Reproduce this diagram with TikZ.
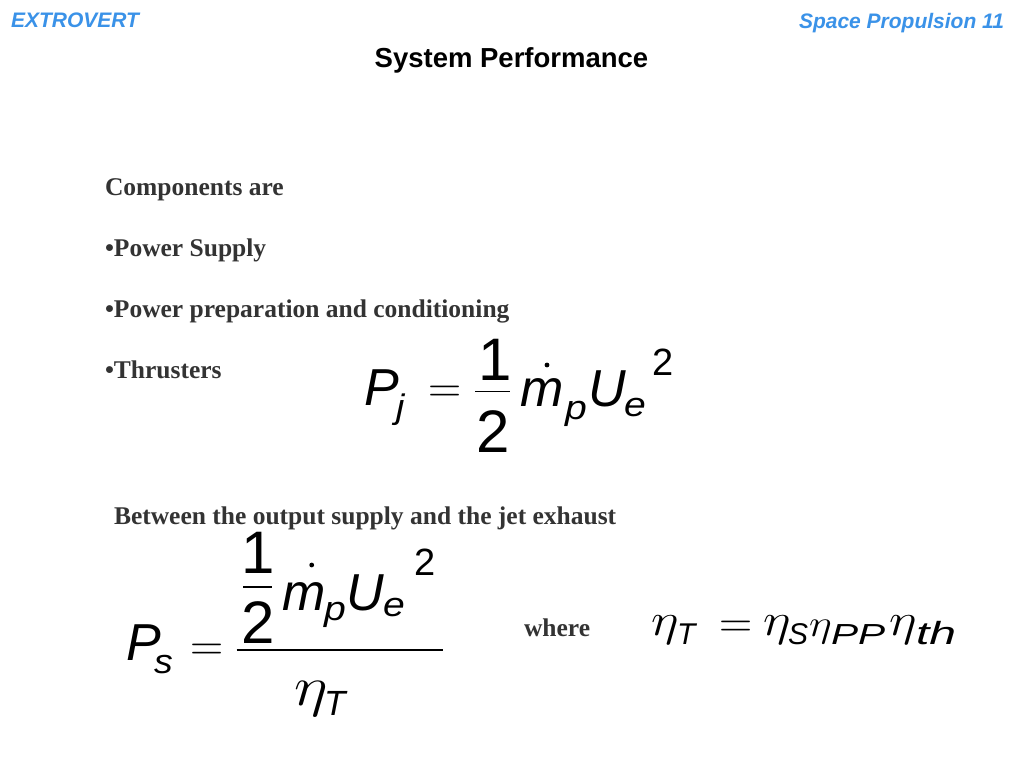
\RequirePackage{fix-cm}
\documentclass[tikz,border=0pt]{standalone}
\usepackage{fontspec}
\newfontfamily\hv{Liberation Sans}
\newfontfamily\tms{Liberation Serif}
\definecolor{hdblue}{RGB}{58,146,232}
\definecolor{bodygray}{RGB}{51,51,51}
\newcommand\setsz[1]{\fontsize{#1}{#1}\selectfont}
\newcommand\wid[2]{\scalebox{#1}[1]{#2}}
\tikzset{
 g/.style={inner sep=0pt, outer sep=0pt, anchor=base west},
 hdr/.style={g, font=\hv\bfseries\itshape\setsz{21}, text=hdblue},
 body/.style={g, font=\tms\bfseries\setsz{25.5}, text=bodygray},
 big/.style={g, font=\hv\itshape\setsz{52}},
 sub/.style={g, font=\hv\itshape\setsz{#1}},
 upr/.style={g, font=\hv\setsz{#1}},
 dig/.style={inner sep=0pt, outer sep=0pt, anchor=base, font=\hv\setsz{60}},
 eqs/.style={g, font=\rmfamily\setsz{46}},
 eta/.style={g, font=\setsz{#1}},
 fbar/.style={line width=1.8pt},
}
\begin{document}
\begin{tikzpicture}[x=1pt,y=-1pt]
\fill[white] (0,0) rectangle (1024,768);
\useasboundingbox (0,0) rectangle (1024,768);
% header
\node[hdr] (ext) at (11,28) {EXTROVERT};
\node[hdr, anchor=base east] (sp) at (1004,29) {Space Propulsion 11};
\node[inner sep=0pt, anchor=base, font=\hv\bfseries\setsz{27.5}] (title) at (511.5,67.5) {System Performance};
% body
\node[body] (comp) at (105,195) {Components are};
\node[body] (ps) at (105,256) {•Power Supply};
\node[body] (ppc) at (105,317) {•Power preparation and conditioning};
\node[body] (thr) at (105,378) {•Thrusters};
\node[body] (betw) at (114,524) {Between the output supply and the jet exhaust};
\node[body] (where) at (524,636.5) {where};
% equation 1
\node[big] (P1) at (364,405) {P};
\node[sub=34] (j1) at (396,418) {\wid{1.1}{j}};
\node[eqs] (eq1) at (428,402.5) {=};
\coordinate (b1l) at (475,391.5);
\coordinate (b1r) at (510,391.5);
\draw[fbar] (b1l) -- (b1r);
\node[dig] (n1) at (495,380) {1};
\node[dig] (d1) at (493.5,452) {2};
\node[big] (m1) at (520,406.5) {m};
\fill (547,365) circle (2.4pt);
\node[sub=34] (p1) at (565,419.5) {\wid{1.15}{p}};
\node[big] (U1) at (588,406.5) {U};
\node[sub=34] (e1) at (624,416.5) {\wid{1.15}{e}};
\node[upr=38] (s1) at (652,375) {2};
% equation 2
\node[big] (P2) at (126,660) {P};
\node[sub=34] (s2) at (154,673) {\wid{1.1}{s}};
\node[eqs] (eq2) at (190.5,660) {=};
\coordinate (B2l) at (236.7,650);
\coordinate (B2r) at (443.3,650);
\draw[fbar] (B2l) -- (B2r);
\coordinate (b2l) at (243,586.7);
\coordinate (b2r) at (271.7,586.7);
\draw[fbar] (b2l) -- (b2r);
\node[dig] (n2) at (258,573) {1};
\node[dig] (d2) at (258.5,643.3) {2};
\node[big] (m2) at (282,610) {m};
\fill (311.7,565) circle (2.4pt);
\node[sub=34] (p2) at (324,620) {\wid{1.15}{p}};
\node[big] (U2) at (346,610) {U};
\node[sub=34] (e2) at (383,616.7) {\wid{1.15}{e}};
\node[upr=38] (sq2) at (414,575) {2};
\node[eta=56] (eta2) at (294,705.8) {\wid{1.15}{$\eta$}};
\node[sub=35] (T2) at (324,715) {T};
% equation 3
\node[eta=46] (etaT) at (651,635) {\wid{1.15}{$\eta$}};
\node[sub=30] (T3) at (677,644) {T};
\node[eqs] (eq3) at (719.5,637) {=};
\node[eta=46] (etaS) at (763,635) {\wid{1.15}{$\eta$}};
\node[sub=30] (S3) at (788,644) {S};
\node[eta=38] (etaPP) at (809,636.7) {\wid{1.15}{$\eta$}};
\node[sub=29] (PP3) at (831,644) {\wid{1.4}{PP}};
\node[eta=46] (etath) at (889,635) {\wid{1.15}{$\eta$}};
\node[sub=32] (th3) at (916,644) {\wid{1.5}{th}};
\end{tikzpicture}
\end{document}
